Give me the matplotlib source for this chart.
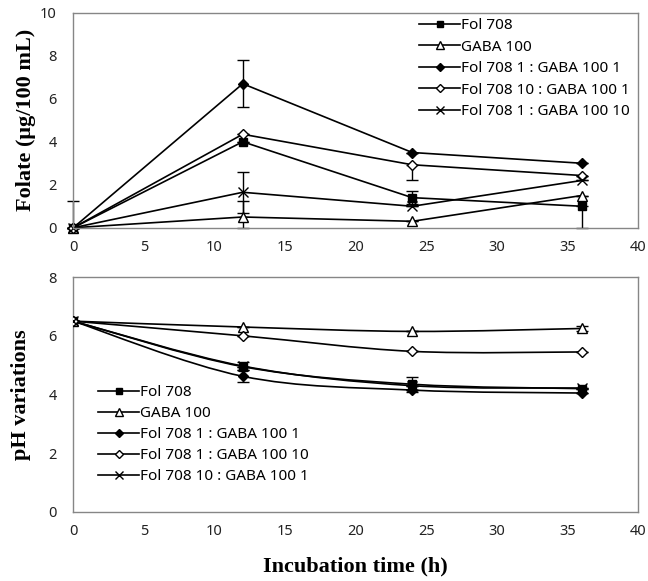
import numpy as np
import matplotlib
matplotlib.use("Agg")
import matplotlib.pyplot as plt
from matplotlib.path import Path
from matplotlib.patches import PathPatch
from matplotlib.lines import Line2D

# ── data ────────────────────────────────────────────────────────────
hours = [0, 12, 24, 36]

# folate (ug/100 mL)
fol_fol708 = [0, 4.0, 1.4, 1.0]
fol_gaba100 = [0, 0.5, 0.3, 1.5]
fol_1_1 = [0, 6.7, 3.5, 3.0]
fol_10_1 = [0, 4.35, 2.93, 2.43]
fol_1_10 = [0, 1.65, 1.0, 2.2]

# folate error bars (lower, upper)
fol708_err = ([0, 0, 0.3, 1.0], [1.25, 0, 0.3, 0])
gaba100_err = ([0, 0.5, 0, 0], [0, 0.75, 0, 0])
f1_1_err = ([0, 1.1, 0, 0], [0, 1.1, 0, 0])
f10_1_err = ([0, 0, 0.7, 0], [0, 0, 0, 0])
f1_10_err = ([0, 0.95, 0, 0], [0, 0.95, 0, 0])

# pH
ph_fol708 = [6.5, 4.95, 4.35, 4.2]
ph_gaba100 = [6.5, 6.3, 6.15, 6.25]
ph_1_1 = [6.5, 4.62, 4.15, 4.05]
ph_1_10 = [6.5, 6.0, 5.47, 5.45]
ph_10_1 = [6.5, 4.97, 4.3, 4.22]

ph_fol708_err = [0, 0, 0.25, 0]
ph_gaba100_err = [0, 0, 0, 0.1]
ph_1_1_err = [0, 0.2, 0, 0]
ph_10_1_err = [0, 0.15, 0, 0]

TOP_LABELS = ["Fol 708", "GABA 100", "Fol 708 1 : GABA 100 1",
              "Fol 708 10 : GABA 100 1", "Fol 708 1 : GABA 100 10"]
BOT_LABELS = ["Fol 708", "GABA 100", "Fol 708 1 : GABA 100 1",
              "Fol 708 1 : GABA 100 10", "Fol 708 10 : GABA 100 1"]

# marker styles: (marker, facecolor, size)
STYLES = [("s", "black", 6), ("^", "white", 6.5), ("D", "black", 5),
          ("D", "white", 5), ("x", "black", 7)]

TICK_FONT = "Noto Sans"
LABEL_FONT = "Liberation Serif"
SPINE = "#868686"
LW = 1.2


def smooth_path(x, y):
    """Excel-like smoothed line: cubic Bezier through the points."""
    pts = np.column_stack([x, y]).astype(float)
    n = len(pts)
    verts = [pts[0]]
    codes = [Path.MOVETO]
    for i in range(n - 1):
        p0 = pts[i - 1] if i > 0 else pts[i]
        p1, p2 = pts[i], pts[i + 1]
        p3 = pts[i + 2] if i + 2 < n else p2
        verts += [p1 + (p2 - p0) / 6, p2 - (p3 - p1) / 6, p2]
        codes += [Path.CURVE4] * 3
    return Path(verts, codes)


def style_axes(ax, ymax, ystep):
    ax.set_xlim(0, 40)
    ax.set_ylim(0, ymax)
    ax.set_xticks(range(0, 41, 5))
    ax.set_yticks(np.arange(0, ymax + 0.1, ystep))
    for s in ax.spines.values():
        s.set_color(SPINE)
        s.set_linewidth(1.0)
    ax.tick_params(length=0, labelsize=10.5, colors="#222222")
    ax.tick_params(axis="x", pad=9)
    ax.tick_params(axis="y", pad=12)
    for lab in ax.get_xticklabels() + ax.get_yticklabels():
        lab.set_fontfamily(TICK_FONT)


def legend_handles(labels):
    return [Line2D([0], [0], color="black", lw=LW, marker=m, markerfacecolor=fc,
                   markeredgecolor="black", markersize=sz * 0.8, label=l)
            for (m, fc, sz), l in zip(STYLES, labels)]


fig = plt.figure(figsize=(6.48, 5.81), dpi=100)
ax1 = fig.add_axes([0.113, 0.608, 0.872, 0.370])
ax2 = fig.add_axes([0.113, 0.119, 0.872, 0.404])

# ── top: folate ─────────────────────────────────────────────────────
top_series = [fol_fol708, fol_gaba100, fol_1_1, fol_10_1, fol_1_10]
top_errs = [fol708_err, gaba100_err, f1_1_err, f10_1_err, f1_10_err]
for vals, err, (m, fc, sz) in zip(top_series, top_errs, STYLES):
    ax1.errorbar(hours, vals, yerr=[err[0], err[1]], color="black", lw=LW,
                 marker=m, markerfacecolor=fc, markeredgecolor="black",
                 markersize=sz, markeredgewidth=1.0, ecolor="black",
                 elinewidth=1.0, capsize=4, capthick=1.0, clip_on=False)

style_axes(ax1, 10, 2)
ax1.set_ylabel("Folate (μg/100 mL)", fontfamily=LABEL_FONT, fontweight="bold",
               fontsize=16)
ax1.yaxis.set_label_coords(-0.065, 0.5)
ax1.legend(handles=legend_handles(TOP_LABELS), loc="upper left",
           bbox_to_anchor=(0.608, 0.985), frameon=False,
           handlelength=2.7, handletextpad=0.05, labelspacing=0.42,
           borderpad=0.15, borderaxespad=0, prop={"family": TICK_FONT, "size": 11})

# ── bottom: pH ──────────────────────────────────────────────────────
bot_series = [ph_fol708, ph_gaba100, ph_1_1, ph_1_10, ph_10_1]
bot_errs = [ph_fol708_err, ph_gaba100_err, ph_1_1_err, [0, 0, 0, 0], ph_10_1_err]
for vals, err, (m, fc, sz) in zip(bot_series, bot_errs, STYLES):
    ax2.add_patch(PathPatch(smooth_path(hours, vals), facecolor="none",
                            edgecolor="black", lw=LW, zorder=2))
    ax2.errorbar(hours, vals, yerr=err, color="black", ls="none",
                 marker=m, markerfacecolor=fc, markeredgecolor="black",
                 markersize=sz, markeredgewidth=1.0, ecolor="black",
                 elinewidth=1.0, capsize=4, capthick=1.0, zorder=3)

style_axes(ax2, 8, 2)
ax2.set_ylabel("pH variations", fontfamily=LABEL_FONT, fontweight="bold",
               fontsize=16)
ax2.yaxis.set_label_coords(-0.075, 0.5)
ax2.set_xlabel("Incubation time (h)", fontfamily=LABEL_FONT, fontweight="bold",
               fontsize=16, labelpad=12)
ax2.legend(handles=legend_handles(BOT_LABELS), loc="upper left",
           bbox_to_anchor=(0.04, 0.55), frameon=False,
           handlelength=2.7, handletextpad=0.05, labelspacing=0.4,
           borderpad=0.15, borderaxespad=0, prop={"family": TICK_FONT, "size": 11})

fig.savefig("out.png", dpi=100, facecolor="white")
